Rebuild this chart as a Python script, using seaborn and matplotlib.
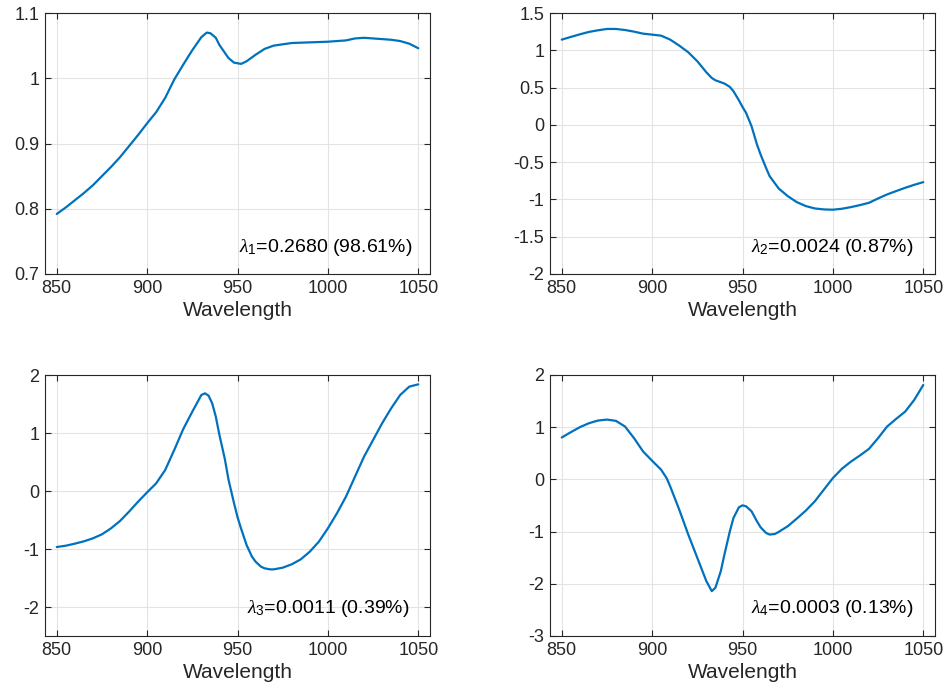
import matplotlib
matplotlib.use("Agg")
import matplotlib.pyplot as plt
import seaborn as sns
import pandas as pd

# ---- data ----
wl1 = [850, 855, 860, 865, 870, 875, 880, 885, 890, 895, 900, 905, 910, 915, 920, 925, 930, 933,
       935, 938, 940, 945, 948, 950, 952, 955, 960, 965, 970, 975, 980, 990, 1000, 1005, 1010,
       1015, 1020, 1025, 1030, 1035, 1040, 1045, 1050]
pc1 = [0.792, 0.802, 0.813, 0.824, 0.836, 0.850, 0.864, 0.879, 0.896, 0.913, 0.931, 0.948, 0.970,
       0.998, 1.021, 1.043, 1.063, 1.070, 1.069, 1.062, 1.051, 1.031, 1.024, 1.023, 1.022, 1.026,
       1.036, 1.045, 1.050, 1.052, 1.054, 1.055, 1.056, 1.057, 1.058, 1.061, 1.062, 1.061, 1.060,
       1.059, 1.057, 1.053, 1.046]

wl2 = [850, 855, 860, 865, 870, 875, 880, 885, 890, 895, 900, 905, 910, 915, 920, 925, 930, 933,
       935, 940, 943, 945, 948, 950, 952, 955, 958, 960, 963, 965, 970, 975, 980, 985, 990, 995,
       1000, 1005, 1010, 1015, 1020, 1025, 1030, 1035, 1040, 1045, 1050]
pc2 = [1.143, 1.179, 1.214, 1.246, 1.268, 1.286, 1.286, 1.272, 1.250, 1.223, 1.210, 1.196, 1.143,
       1.063, 0.973, 0.853, 0.705, 0.629, 0.598, 0.554, 0.509, 0.451, 0.330, 0.240, 0.160, -0.018,
       -0.263, -0.397, -0.576, -0.688, -0.853, -0.955, -1.036, -1.089, -1.121, -1.134, -1.138,
       -1.125, -1.103, -1.076, -1.045, -0.987, -0.933, -0.888, -0.844, -0.804, -0.768]

wl3 = [850, 855, 860, 865, 870, 875, 880, 885, 890, 895, 900, 905, 910, 915, 920, 925, 928, 930,
       932, 934, 936, 938, 940, 943, 945, 948, 950, 952, 955, 958, 960, 963, 965, 968, 970, 975,
       980, 985, 990, 995, 1000, 1005, 1010, 1015, 1020, 1025, 1030, 1035, 1040, 1045, 1050]
pc3 = [-0.966, -0.943, -0.908, -0.868, -0.816, -0.747, -0.644, -0.517, -0.356, -0.184, -0.023,
       0.132, 0.362, 0.707, 1.069, 1.368, 1.540, 1.655, 1.684, 1.644, 1.511, 1.282, 0.966, 0.550,
       0.200, -0.200, -0.450, -0.650, -0.930, -1.132, -1.218, -1.305, -1.333, -1.351, -1.351,
       -1.322, -1.264, -1.178, -1.046, -0.874, -0.644, -0.385, -0.098, 0.247, 0.592, 0.879, 1.167,
       1.425, 1.655, 1.799, 1.839]

wl4 = [850, 855, 860, 865, 870, 875, 880, 885, 890, 895, 900, 905, 908, 910, 915, 920, 925, 930,
       933, 935, 938, 940, 943, 945, 948, 950, 952, 955, 958, 960, 963, 965, 968, 970, 975, 980,
       985, 990, 995, 1000, 1005, 1010, 1015, 1020, 1025, 1030, 1035, 1040, 1045, 1050]
pc4 = [0.803, 0.904, 1.000, 1.076, 1.127, 1.146, 1.121, 1.013, 0.790, 0.535, 0.357, 0.185, 0.025,
       -0.134, -0.580, -1.057, -1.503, -1.949, -2.140, -2.076, -1.758, -1.439, -0.994, -0.739,
       -0.535, -0.497, -0.516, -0.611, -0.803, -0.917, -1.025, -1.057, -1.045, -1.006, -0.898,
       -0.752, -0.599, -0.420, -0.197, 0.025, 0.204, 0.341, 0.459, 0.586, 0.790, 1.013, 1.159,
       1.299, 1.522, 1.809]

labels = [r"$\lambda_1$=0.2680 (98.61%)", r"$\lambda_2$=0.0024 (0.87%)",
          r"$\lambda_3$=0.0011 (0.39%)", r"$\lambda_4$=0.0003 (0.13%)"]
xticks = [850, 900, 950, 1000, 1050]
yticks = [[0.7, 0.8, 0.9, 1.0, 1.1], [-2, -1.5, -1, -0.5, 0, 0.5, 1, 1.5],
          [-2, -1, 0, 1, 2], [-3, -2, -1, 0, 1, 2]]
yticklabels = [["0.7", "0.8", "0.9", "1", "1.1"],
               ["-2", "-1.5", "-1", "-0.5", "0", "0.5", "1", "1.5"],
               ["-2", "-1", "0", "1", "2"], ["-3", "-2", "-1", "0", "1", "2"]]
ylims = [(0.7, 1.1), (-2, 1.5), (-2.5, 2), (-3, 2)]
xlabel = "Wavelength"

sns.set_theme(style="whitegrid")
plt.rcParams["font.family"] = ["Liberation Sans", "DejaVu Sans"]
plt.rcParams["mathtext.fontset"] = "custom"
plt.rcParams["mathtext.it"] = "Liberation Serif:italic"
plt.rcParams["mathtext.rm"] = "Liberation Sans"

fig = plt.figure(figsize=(9.46, 6.98), dpi=100)
W, H = 946, 698
boxes = [(45, 13), (550, 13), (45, 375), (550, 375)]
aw, ah = 385, 261
series = [(wl1, pc1), (wl2, pc2), (wl3, pc3), (wl4, pc4)]
txtpos = [(0.504, 0.10), (0.522, 0.103), (0.525, 0.107), (0.522, 0.107)]

dark = "#262626"
for i, ((x0, y0), (wl, pc)) in enumerate(zip(boxes, series)):
    ax = fig.add_axes([x0 / W, 1 - (y0 + ah) / H, aw / W, ah / H])
    df = pd.DataFrame({"wl": wl, "v": pc})
    sns.lineplot(data=df, x="wl", y="v", ax=ax, color="#0072BD", linewidth=1.6)
    ax.set_xlim(843.5, 1056.5)
    ax.set_ylim(*ylims[i])
    ax.set_xticks(xticks)
    ax.set_xticklabels([str(t) for t in xticks])
    ax.set_yticks(yticks[i])
    ax.set_yticklabels(yticklabels[i])
    ax.set_xlabel(xlabel, fontsize=15, color=dark, labelpad=3)
    ax.set_ylabel("")
    ax.grid(True, color="#e3e3e3", linewidth=0.8)
    for s in ax.spines.values():
        s.set_visible(True)
        s.set_color(dark)
        s.set_linewidth(0.8)
    ax.tick_params(direction="in", length=4, width=0.8, color=dark, labelcolor=dark,
                   labelsize=13, top=True, right=True, bottom=True, left=True, pad=4)
    ax.set_facecolor("white")
    ax.text(txtpos[i][0], txtpos[i][1], labels[i], transform=ax.transAxes,
            ha="left", va="center", fontsize=14, color="black")

fig.savefig("out.png", dpi=100, facecolor="white")
